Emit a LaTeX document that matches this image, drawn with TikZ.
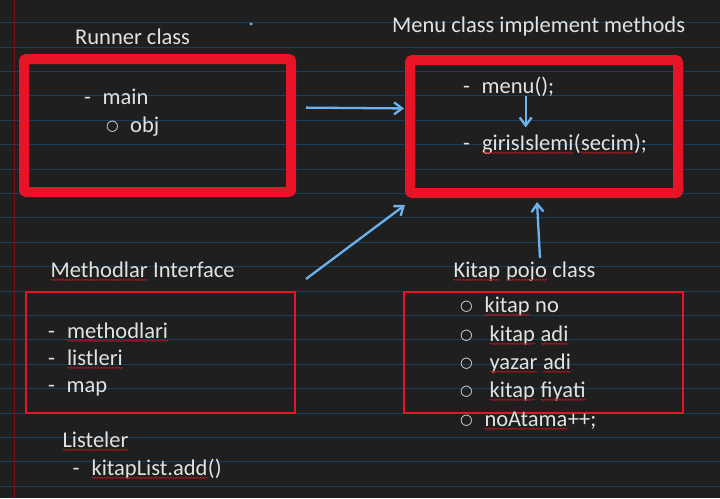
\documentclass[tikz,border=0pt]{standalone}
\usepackage{fontspec}
\setmainfont{Carlito}
\newfontfamily\symf{DejaVu Sans}
\usetikzlibrary{positioning,arrows.meta,decorations.pathmorphing}

\definecolor{paper}{RGB}{31,31,31}
\definecolor{rule}{RGB}{26,62,94}
\definecolor{margin}{RGB}{115,18,22}
\definecolor{boxred}{RGB}{230,20,38}
\definecolor{ink}{RGB}{226,226,224}
\definecolor{pen}{RGB}{108,178,238}
\definecolor{squig}{RGB}{180,22,30}

\newcommand\dsh{\makebox[18.5pt][l]{-}}
\newcommand\crc{\makebox[24pt][l]{\raisebox{1.2pt}{\symf\fontsize{14.5}{14.5}\selectfont ○}}}
\newcommand\spl[1]{\tikz[baseline=(sq.base)]{\node[inner sep=0pt,outer sep=0pt,anchor=base] (sq) {#1};\draw[squig,line width=.7pt,decorate,decoration={snake,amplitude=.7pt,segment length=3pt}] ([yshift=-2.8pt]sq.base west) -- ([yshift=-2.8pt]sq.base east);}}

\begin{document}
\begin{tikzpicture}[x=1pt,y=-1pt,
  txt/.style={font=\fontsize{22.5}{27}\selectfont,text=ink,inner sep=0pt,anchor=base west},
  bigbox/.style={draw=boxred,line width=10pt,rounded corners=2.5pt,outer sep=0pt,inner sep=0pt},
  thinbox/.style={draw=boxred,line width=2pt,outer sep=0pt,inner sep=0pt},
  arr/.style={pen,line width=2.3pt,-{Straight Barb[length=8pt,width=12pt]}}]
\fill[paper] (0,0) rectangle (720,498);
\useasboundingbox (0,0) rectangle (720,498);
% lined paper
\foreach \k in {0,...,19}
  \draw[rule,line width=1pt] (0,22.7+24.4*\k) -- (720,22.7+24.4*\k);
\draw[margin,line width=1pt] (14,0) -- (14,498);
\fill[pen] (251,24) circle (1.6pt);

% boxes
\node[bigbox,minimum width=267pt,minimum height=133pt] (runner) at (157.5,125.5) {};
\node[bigbox,minimum width=268pt,minimum height=133pt] (menu) at (544,126.5) {};
\node[thinbox,minimum width=269pt,minimum height=121pt] (meth) at (160.5,352.5) {};
\node[thinbox,minimum width=279pt,minimum height=121pt] (kitap) at (543.5,352.5) {};

% titles
\node[txt] (runnerT) at (75,44) {Runner class};
\node[txt] (menuT) at (392,32) {Menu class implement methods};
\node[txt] (methT) at (50,277) {\spl{Methodlar} Interface};
\node[txt] (kitapT) at (453,277) {\spl{Kitap} \spl{pojo} class};
\node[txt] (listT) at (62,447) {\spl{Listeler}};

% items
\node[txt] (r1) at (84,104) {\dsh main};
\node[txt] (r2) at (106,132) {\crc obj};
\node[txt] (m1) at (463,93) {\dsh menu();};
\node[txt] (m2) at (463,150) {\dsh\spl{girisIslemi}(\spl{secim});};
\node[txt] (i1) at (48,338) {\dsh\spl{methodlari}};
\node[txt] (i2) at (48,365) {\dsh\spl{listleri}};
\node[txt] (i3) at (48,392) {\dsh map};
\node[txt] (l1) at (72.5,475) {\dsh\spl{kitapList.add}()};
\node[txt] (k1) at (460,312) {\crc\spl{kitap} no};
\node[txt] (k2) at (460,341) {\crc\ \spl{kitap} \spl{adi}};
\node[txt] (k3) at (460,369) {\crc\ \spl{yazar} \spl{adi}};
\node[txt] (k4) at (460,397) {\crc\ \spl{kitap} \spl{fiyati}};
\node[txt] (k5) at (460,426) {\crc\spl{noAtama}++;};

% arrows
\draw[arr,shorten <=15pt,shorten >=6pt] ([yshift=18pt]runner.east) -- ([yshift=18pt]menu.west);
\draw[arr] ([shift={(11,-13)}]meth.north east) -- ([shift={(-5,12)}]menu.south west);
\draw[arr] ([shift={(-3.5,-34)}]kitap.north) -- ([shift={(-7,9)}]menu.south);
\draw[arr,shorten >=6pt] ([xshift=17pt]m1.south) -- ([xshift=17pt]m1.south |- m2.north);
\end{tikzpicture}
\end{document}
